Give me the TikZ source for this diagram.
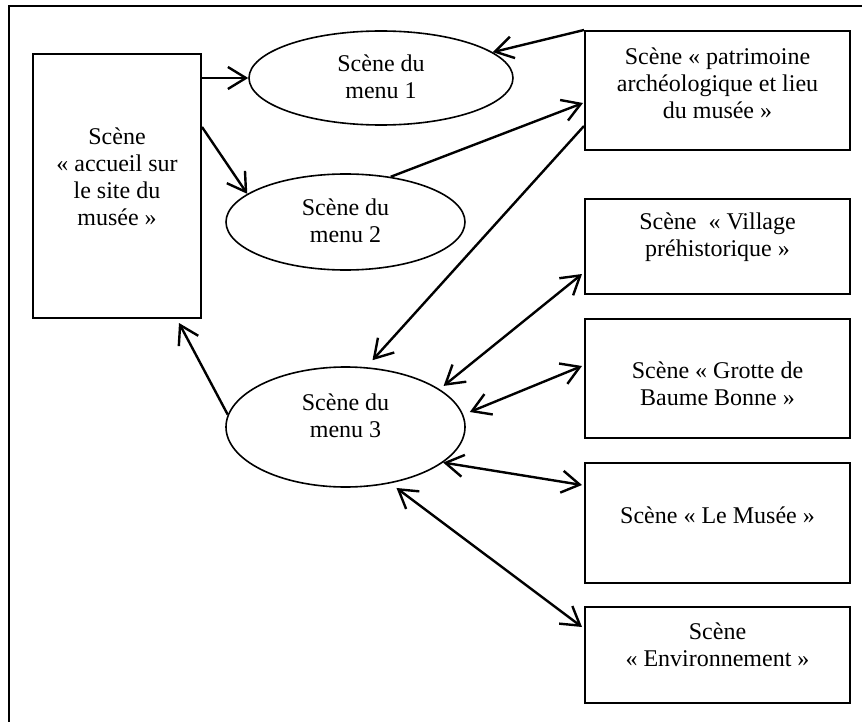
\documentclass[tikz,border=0pt]{standalone}
\usepackage{fontspec}
\setmainfont{Liberation Serif}
\usetikzlibrary{arrows.meta,calc,shapes.geometric}
\tikzset{
  scenebox/.style={draw, line width=1pt, inner sep=0pt},
  menuell/.style={draw, ellipse, line width=0.8pt, inner sep=0pt},
  lbl/.style={align=center, inner sep=0pt, font=\fontsize{12pt}{13.5pt}\selectfont},
  tipb/.tip={Straight Barb[length=9pt,width=11pt]},
  conn/.style={line width=1.2pt, -tipb},
  dconn/.style={line width=1.2pt, tipb-tipb},
}
\begin{document}
\begin{tikzpicture}[x=0.5pt,y=-0.5pt]
\useasboundingbox (0,0) rectangle (862,722);
% partial frame (top and left visible)
\coordinate (ftr) at (862,6);
\coordinate (ftl) at (9,6);
\coordinate (fbl) at (9,722);
\draw[line width=1pt] (ftr) -- (ftl) -- (fbl);

% boxes
\node[scenebox, minimum width=84pt, minimum height=132pt] (acc) at (117,186) {};
\node[lbl] (acct) at (117,177) {Scène\\« accueil sur\\le site du\\musée »};

\node[scenebox, minimum width=132.5pt, minimum height=59.5pt] (patr) at (717.5,90.5) {};
\node[lbl] (patrt) at (717.5,83) {Scène « patrimoine\\archéologique et lieu\\du musée »};

\node[scenebox, minimum width=132.5pt, minimum height=47.5pt] (vil) at (717.5,246.5) {};
\node[lbl] (vilt) at (717.5,237) {Scène~ « Village\\préhistorique »};

\node[scenebox, minimum width=132.5pt, minimum height=59.5pt] (grot) at (717.5,378.5) {};
\node[lbl] (grott) at (717.5,384) {Scène « Grotte de\\Baume Bonne »};

\node[scenebox, minimum width=132.5pt, minimum height=60pt] (mus) at (717.5,523) {};
\node[lbl] (must) at (717.5,515) {Scène « Le Musée »};

\node[scenebox, minimum width=132.5pt, minimum height=48pt] (env) at (717.5,655) {};
\node[lbl] (envt) at (717.5,645) {Scène\\« Environnement »};

% ellipses
\node[menuell, minimum width=132pt, minimum height=47pt] (e1) at (381,78) {};
\node[lbl] (e1t) at (381,77) {Scène du\\menu 1};

\node[menuell, minimum width=119.5pt, minimum height=48pt] (e2) at (345.5,222) {};
\node[lbl] (e2t) at (345.5,221) {Scène du\\menu 2};

\node[menuell, minimum width=119.5pt, minimum height=60pt] (e3) at (345.5,427) {};
\node[lbl] (e3t) at (345.5,416) {Scène du\\menu 3};

% connectors
\draw[conn] (acc.east |- e1.west) -- (e1.west);
\draw[conn] ($(acc.north east)+(0,74)$) -- (e2.164);
\draw[conn] (patr.north west) -- (e1.13);
\draw[conn] (e2.45) -- ($(patr.north west)+(-1,73)$);
\draw[conn] ($(patr.north west)+(0,96)$) -- ($(e3.north)+(27,-6)$);
\draw[conn] (e3.174) -- ($(acc.south east)+(-23,4)$);
\draw[dconn] ($(e3.23)+(6,-2)$) -- ($(vil.south west)+(-2,-21)$);
\draw[dconn] ($(e3.east)+(4,-15)$) -- ($(grot.north west)+(-2,48)$);
\draw[dconn] (e3.-20) -- ($(mus.north west)+(-2,23)$);
\draw[dconn] ($(e3.-50)+(4,5)$) -- ($(env.north west)+(-2,21)$);
\end{tikzpicture}
\end{document}
